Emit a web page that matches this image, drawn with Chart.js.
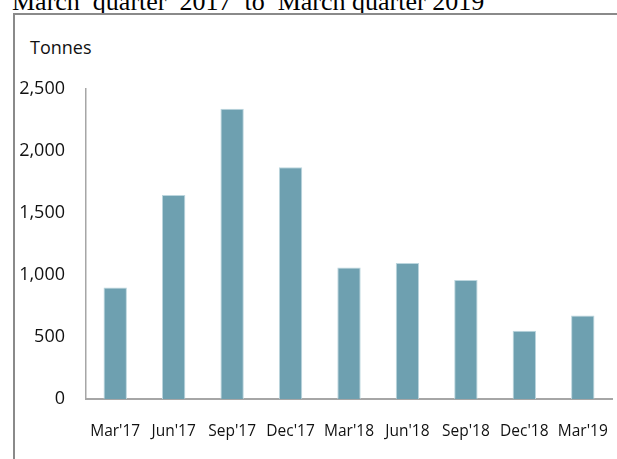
<!DOCTYPE html>
<html>
<head>
<meta charset="utf-8">
<script src="https://cdn.jsdelivr.net/npm/chart.js@4"></script>
<style>
  html, body { margin: 0; padding: 0; background: #fff; }
  body { width: 617px; height: 459px; overflow: hidden; position: relative; }
  #title { position: absolute; left: 12px; top: -11px; font-family: 'Liberation Serif', 'Times New Roman', serif; font-size: 26px; line-height: 26px; color: #000; white-space: pre; }
  #box { position: absolute; left: 13px; top: 13px; width: 640px; height: 480px; border-left: 2px solid #8a8a8a; border-top: 2px solid #8a8a8a; }
  #unit { position: absolute; left: 30px; top: 35px; font-family: 'Open Sans', sans-serif; font-size: 18px; line-height: 24px; color: #111; }
  #wrap { position: absolute; left: 0; top: 0; width: 617px; height: 459px; }
</style>
</head>
<body>
<div id="title">March  quarter  2017  to  March quarter 2019</div>
<div id="box"></div>
<div id="unit">Tonnes</div>
<div id="wrap"><canvas id="c" width="617" height="459"></canvas></div>
<script>
const categories = ["Mar'17", "Jun'17", "Sep'17", "Dec'17", "Mar'18", "Jun'18", "Sep'18", "Dec'18", "Mar'19"];
const tonnes = [900, 1645, 2340, 1868, 1060, 1097, 960, 551, 674];
const yTicks = [0, 500, 1000, 1500, 2000, 2500];

new Chart(document.getElementById('c'), {
  type: 'bar',
  data: {
    labels: categories,
    datasets: [{
      data: tonnes,
      backgroundColor: '#6ea0b0',
      borderColor: '#bcd6de',
      borderWidth: 1,
      barPercentage: 0.4,
      categoryPercentage: 1.0
    }]
  },
  options: {
    responsive: false,
    animation: false,
    devicePixelRatio: 1,
    layout: { padding: { top: 89, right: 5, left: 0, bottom: 0 } },
    plugins: { legend: { display: false }, tooltip: { enabled: false }, title: { display: false } },
    scales: {
      x: {
        grid: { display: false, drawTicks: false },
        border: { display: true, color: '#a6a6a6', width: 2 },
        ticks: { color: '#111', font: { family: 'Open Sans', size: 15.5 }, padding: 23, maxRotation: 0, autoSkip: false },
        afterFit: (s) => { s.height = 60; s.paddingLeft = 0; s.paddingRight = 0; }
      },
      y: {
        min: 0, max: 2500,
        afterBuildTicks: (s) => { s.ticks = yTicks.map(v => ({ value: v })); },
        grid: { display: false, drawTicks: false },
        border: { display: true, color: '#a6a6a6', width: 1.5 },
        ticks: {
          color: '#111', font: { family: 'Open Sans', size: 18 }, padding: 21,
          callback: (v) => v.toLocaleString('en-US')
        },
        afterFit: (s) => { s.width = 86; s.paddingTop = 0; s.paddingBottom = 0; }
      }
    }
  }
});
</script>
</body>
</html>
